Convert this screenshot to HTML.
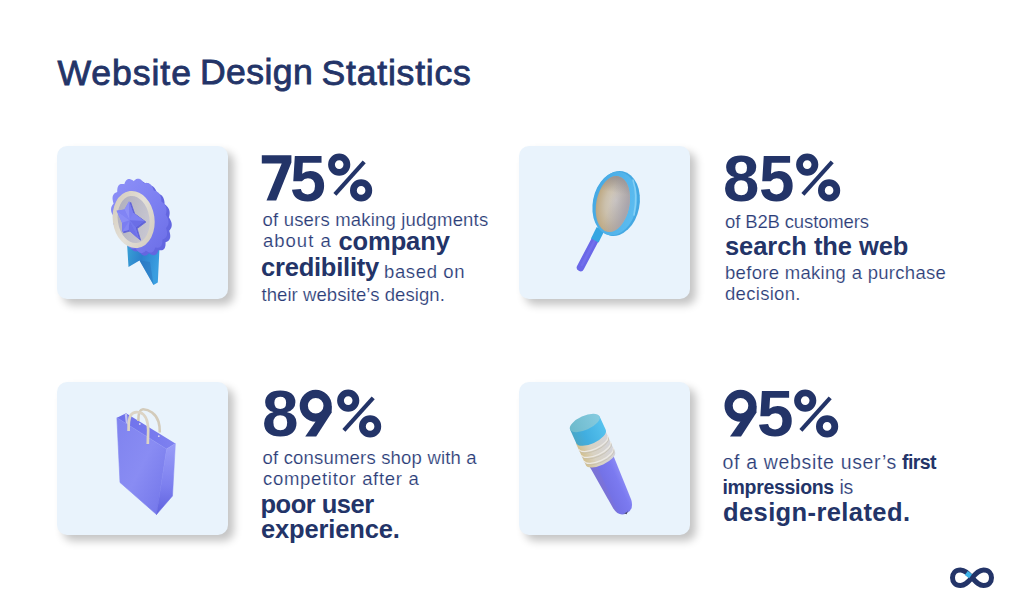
<!DOCTYPE html>
<html><head><meta charset="utf-8"><style>
html,body{margin:0;padding:0}
body{width:1024px;height:615px;background:#fff;position:relative;overflow:hidden;font-family:"Liberation Sans",sans-serif;color:#233468}
.t{position:absolute;line-height:0;white-space:pre}
.r{color:#2c3d78;-webkit-text-stroke:0.16px #fff}
.card{position:absolute;width:171px;height:153px;border-radius:10px;background:#e9f3fc;box-shadow:6px 6px 9px rgba(0,0,0,0.23)}
svg{position:absolute;overflow:visible}
</style></head><body>
<div class="card" style="left:57.0px;top:145.6px"></div>
<div class="card" style="left:518.8px;top:145.7px"></div>
<div class="card" style="left:57.0px;top:381.5px"></div>
<div class="card" style="left:518.8px;top:381.5px"></div>

<svg style="left:0;top:0" width="1024" height="615" viewBox="0 0 1024 615">
<defs>
<linearGradient id="rib" x1="0" y1="0" x2="1" y2="0.3">
 <stop offset="0" stop-color="#3aa2d6"/><stop offset="0.5" stop-color="#2c80cc"/><stop offset="1" stop-color="#3a9ee0"/>
</linearGradient>
<linearGradient id="ros" x1="0" y1="0" x2="1" y2="1">
 <stop offset="0" stop-color="#8f92f8"/><stop offset="0.55" stop-color="#7c7ff1"/><stop offset="1" stop-color="#6b6de6"/>
</linearGradient>
<linearGradient id="ring" x1="0" y1="0" x2="1" y2="1">
 <stop offset="0" stop-color="#d3cbbb"/><stop offset="0.5" stop-color="#e4e0d8"/><stop offset="1" stop-color="#d1cabd"/>
</linearGradient>
<linearGradient id="disc" x1="0" y1="0" x2="1" y2="0.6">
 <stop offset="0" stop-color="#acabba"/><stop offset="1" stop-color="#c9c8d2"/>
</linearGradient>
</defs>
<path d="M127,243 L128.5,267 L139.5,260.5 L153.5,285 L157.8,282.5 L159.5,248 Z" fill="url(#rib)"/>
<path d="M139.5,260.5 L153.5,285 L150,262 Z" fill="#2a74bd" opacity="0.5"/>
<path d="M169.21,209.98 L169.35,210.47 L169.47,210.96 L169.56,211.45 L169.62,211.95 L169.66,212.46 L169.67,212.96 L169.65,213.47 L169.62,213.97 L169.56,214.48 L169.48,214.97 L169.38,215.47 L169.27,215.96 L169.15,216.44 L169.01,216.91 L168.87,217.38 L169.17,217.83 L169.47,218.28 L169.76,218.75 L170.04,219.22 L170.30,219.70 L170.55,220.18 L170.78,220.67 L170.99,221.17 L171.18,221.66 L171.35,222.16 L171.49,222.66 L171.60,223.16 L171.68,223.66 L171.74,224.15 L171.77,224.64 L171.76,225.12 L171.73,225.59 L171.67,226.06 L171.59,226.51 L171.47,226.96 L171.33,227.39 L171.17,227.82 L170.98,228.22 L170.77,228.62 L170.54,229.00 L170.30,229.37 L170.04,229.73 L169.78,230.07 L169.50,230.41 L169.22,230.73 L169.38,231.27 L169.55,231.80 L169.70,232.34 L169.83,232.88 L169.96,233.43 L170.06,233.96 L170.14,234.49 L170.21,235.02 L170.25,235.54 L170.26,236.04 L170.25,236.54 L170.22,237.02 L170.15,237.48 L170.06,237.93 L169.94,238.36 L169.80,238.76 L169.62,239.15 L169.42,239.51 L169.20,239.85 L168.95,240.17 L168.68,240.47 L168.39,240.74 L168.08,240.99 L167.75,241.22 L167.41,241.43 L167.06,241.62 L166.70,241.79 L166.32,241.95 L165.95,242.09 L165.57,242.22 L165.58,242.76 L165.58,243.30 L165.57,243.83 L165.54,244.36 L165.50,244.88 L165.45,245.39 L165.37,245.88 L165.28,246.36 L165.16,246.82 L165.03,247.26 L164.87,247.67 L164.69,248.06 L164.49,248.42 L164.26,248.75 L164.02,249.05 L163.75,249.32 L163.46,249.56 L163.15,249.77 L162.83,249.94 L162.48,250.09 L162.12,250.20 L161.75,250.28 L161.37,250.34 L160.97,250.37 L160.57,250.37 L160.16,250.35 L159.74,250.31 L159.32,250.25 L158.90,250.18 L158.49,250.10 L158.33,250.56 L158.17,251.02 L158.00,251.46 L157.82,251.90 L157.63,252.32 L157.42,252.72 L157.19,253.10 L156.96,253.46 L156.71,253.79 L156.44,254.09 L156.16,254.36 L155.86,254.60 L155.55,254.80 L155.23,254.97 L154.89,255.10 L154.54,255.19 L154.18,255.25 L153.81,255.26 L153.43,255.25 L153.05,255.19 L152.65,255.11 L152.26,254.99 L151.85,254.84 L151.45,254.66 L151.05,254.46 L150.64,254.23 L150.24,253.99 L149.84,253.72 L149.44,253.45 L149.05,253.17 L148.76,253.48 L148.46,253.78 L148.15,254.08 L147.84,254.35 L147.52,254.61 L147.19,254.84 L146.86,255.05 L146.51,255.24 L146.16,255.39 L145.81,255.51 L145.44,255.59 L145.08,255.64 L144.71,255.66 L144.33,255.63 L143.96,255.57 L143.58,255.47 L143.20,255.33 L142.83,255.16 L142.45,254.95 L142.08,254.71 L141.71,254.44 L141.35,254.13 L141.00,253.80 L140.64,253.45 L140.30,253.07 L139.96,252.67 L139.63,252.26 L139.31,251.83 L138.99,251.40 L138.68,250.96 L138.30,251.07 L137.91,251.18 L137.52,251.27 L137.13,251.35 L136.73,251.40 L136.33,251.43 L135.93,251.44 L135.53,251.42 L135.14,251.37 L134.74,251.29 L134.36,251.18 L133.97,251.03 L133.60,250.85 L133.23,250.64 L132.87,250.40 L132.53,250.12 L132.19,249.82 L131.87,249.48 L131.55,249.11 L131.26,248.72 L130.97,248.30 L130.70,247.86 L130.44,247.39 L130.20,246.91 L129.97,246.42 L129.75,245.91 L129.54,245.39 L129.34,244.87 L129.16,244.34 L128.98,243.80 L128.56,243.71 L128.14,243.60 L127.72,243.48 L127.30,243.34 L126.89,243.19 L126.48,243.01 L126.08,242.81 L125.69,242.59 L125.31,242.35 L124.94,242.08 L124.58,241.79 L124.25,241.47 L123.92,241.13 L123.62,240.76 L123.33,240.37 L123.07,239.96 L122.83,239.53 L122.60,239.08 L122.40,238.61 L122.22,238.12 L122.06,237.62 L121.92,237.11 L121.80,236.59 L121.70,236.06 L121.62,235.52 L121.55,234.98 L121.50,234.43 L121.46,233.89 L121.43,233.34 L121.41,232.80 L121.02,232.51 L120.63,232.20 L120.25,231.89 L119.87,231.56 L119.51,231.21 L119.15,230.85 L118.81,230.48 L118.48,230.10 L118.17,229.69 L117.88,229.28 L117.62,228.85 L117.37,228.41 L117.15,227.96 L116.96,227.49 L116.79,227.02 L116.65,226.53 L116.53,226.04 L116.44,225.55 L116.38,225.05 L116.34,224.54 L116.33,224.04 L116.35,223.53 L116.38,223.03 L116.44,222.52 L116.52,222.03 L116.62,221.53 L116.73,221.04 L116.85,220.56 L116.99,220.09 L117.13,219.62 L116.83,219.17 L116.53,218.72 L116.24,218.25 L115.96,217.78 L115.70,217.30 L115.45,216.82 L115.22,216.33 L115.01,215.83 L114.82,215.34 L114.65,214.84 L114.51,214.34 L114.40,213.84 L114.32,213.34 L114.26,212.85 L114.23,212.36 L114.24,211.88 L114.27,211.41 L114.33,210.94 L114.41,210.49 L114.53,210.04 L114.67,209.61 L114.83,209.18 L115.02,208.78 L115.23,208.38 L115.46,208.00 L115.70,207.63 L115.96,207.27 L116.22,206.93 L116.50,206.59 L116.78,206.27 L116.62,205.73 L116.45,205.20 L116.30,204.66 L116.17,204.12 L116.04,203.57 L115.94,203.04 L115.86,202.51 L115.79,201.98 L115.75,201.46 L115.74,200.96 L115.75,200.46 L115.78,199.98 L115.85,199.52 L115.94,199.07 L116.06,198.64 L116.20,198.24 L116.38,197.85 L116.58,197.49 L116.80,197.15 L117.05,196.83 L117.32,196.53 L117.61,196.26 L117.92,196.01 L118.25,195.78 L118.59,195.57 L118.94,195.38 L119.30,195.21 L119.68,195.05 L120.05,194.91 L120.43,194.78 L120.42,194.24 L120.42,193.70 L120.43,193.17 L120.46,192.64 L120.50,192.12 L120.55,191.61 L120.63,191.12 L120.72,190.64 L120.84,190.18 L120.97,189.74 L121.13,189.33 L121.31,188.94 L121.51,188.58 L121.74,188.25 L121.98,187.95 L122.25,187.68 L122.54,187.44 L122.85,187.23 L123.17,187.06 L123.52,186.91 L123.88,186.80 L124.25,186.72 L124.63,186.66 L125.03,186.63 L125.43,186.63 L125.84,186.65 L126.26,186.69 L126.68,186.75 L127.10,186.82 L127.51,186.90 L127.67,186.44 L127.83,185.98 L128.00,185.54 L128.18,185.10 L128.37,184.68 L128.58,184.28 L128.81,183.90 L129.04,183.54 L129.29,183.21 L129.56,182.91 L129.84,182.64 L130.14,182.40 L130.45,182.20 L130.77,182.03 L131.11,181.90 L131.46,181.81 L131.82,181.75 L132.19,181.74 L132.57,181.75 L132.95,181.81 L133.35,181.89 L133.74,182.01 L134.15,182.16 L134.55,182.34 L134.95,182.54 L135.36,182.77 L135.76,183.01 L136.16,183.28 L136.56,183.55 L136.95,183.83 L137.24,183.52 L137.54,183.22 L137.85,182.92 L138.16,182.65 L138.48,182.39 L138.81,182.16 L139.14,181.95 L139.49,181.76 L139.84,181.61 L140.19,181.49 L140.56,181.41 L140.92,181.36 L141.29,181.34 L141.67,181.37 L142.04,181.43 L142.42,181.53 L142.80,181.67 L143.17,181.84 L143.55,182.05 L143.92,182.29 L144.29,182.56 L144.65,182.87 L145.00,183.20 L145.36,183.55 L145.70,183.93 L146.04,184.33 L146.37,184.74 L146.69,185.17 L147.01,185.60 L147.32,186.04 L147.70,185.93 L148.09,185.82 L148.48,185.73 L148.87,185.65 L149.27,185.60 L149.67,185.57 L150.07,185.56 L150.47,185.58 L150.86,185.63 L151.26,185.71 L151.64,185.82 L152.03,185.97 L152.40,186.15 L152.77,186.36 L153.13,186.60 L153.47,186.88 L153.81,187.18 L154.13,187.52 L154.45,187.89 L154.74,188.28 L155.03,188.70 L155.30,189.14 L155.56,189.61 L155.80,190.09 L156.03,190.58 L156.25,191.09 L156.46,191.61 L156.66,192.13 L156.84,192.66 L157.02,193.20 L157.44,193.29 L157.86,193.40 L158.28,193.52 L158.70,193.66 L159.11,193.81 L159.52,193.99 L159.92,194.19 L160.31,194.41 L160.69,194.65 L161.06,194.92 L161.42,195.21 L161.75,195.53 L162.08,195.87 L162.38,196.24 L162.67,196.63 L162.93,197.04 L163.17,197.47 L163.40,197.92 L163.60,198.39 L163.78,198.88 L163.94,199.38 L164.08,199.89 L164.20,200.41 L164.30,200.94 L164.38,201.48 L164.45,202.02 L164.50,202.57 L164.54,203.11 L164.57,203.66 L164.59,204.20 L164.98,204.49 L165.37,204.80 L165.75,205.11 L166.13,205.44 L166.49,205.79 L166.85,206.15 L167.19,206.52 L167.52,206.90 L167.83,207.31 L168.12,207.72 L168.38,208.15 L168.63,208.59 L168.85,209.04 L169.04,209.51 Z" fill="#6366e0"/>
<path d="M166.01,207.28 L166.15,207.77 L166.27,208.26 L166.36,208.75 L166.42,209.25 L166.46,209.76 L166.47,210.26 L166.45,210.77 L166.42,211.27 L166.36,211.78 L166.28,212.27 L166.18,212.77 L166.07,213.26 L165.95,213.74 L165.81,214.21 L165.67,214.68 L165.97,215.13 L166.27,215.58 L166.56,216.05 L166.84,216.52 L167.10,217.00 L167.35,217.48 L167.58,217.97 L167.79,218.47 L167.98,218.96 L168.15,219.46 L168.29,219.96 L168.40,220.46 L168.48,220.96 L168.54,221.45 L168.57,221.94 L168.56,222.42 L168.53,222.89 L168.47,223.36 L168.39,223.81 L168.27,224.26 L168.13,224.69 L167.97,225.12 L167.78,225.52 L167.57,225.92 L167.34,226.30 L167.10,226.67 L166.84,227.03 L166.58,227.37 L166.30,227.71 L166.02,228.03 L166.18,228.57 L166.35,229.10 L166.50,229.64 L166.63,230.18 L166.76,230.73 L166.86,231.26 L166.94,231.79 L167.01,232.32 L167.05,232.84 L167.06,233.34 L167.05,233.84 L167.02,234.32 L166.95,234.78 L166.86,235.23 L166.74,235.66 L166.60,236.06 L166.42,236.45 L166.22,236.81 L166.00,237.15 L165.75,237.47 L165.48,237.77 L165.19,238.04 L164.88,238.29 L164.55,238.52 L164.21,238.73 L163.86,238.92 L163.50,239.09 L163.12,239.25 L162.75,239.39 L162.37,239.52 L162.38,240.06 L162.38,240.60 L162.37,241.13 L162.34,241.66 L162.30,242.18 L162.25,242.69 L162.17,243.18 L162.08,243.66 L161.96,244.12 L161.83,244.56 L161.67,244.97 L161.49,245.36 L161.29,245.72 L161.06,246.05 L160.82,246.35 L160.55,246.62 L160.26,246.86 L159.95,247.07 L159.63,247.24 L159.28,247.39 L158.92,247.50 L158.55,247.58 L158.17,247.64 L157.77,247.67 L157.37,247.67 L156.96,247.65 L156.54,247.61 L156.12,247.55 L155.70,247.48 L155.29,247.40 L155.13,247.86 L154.97,248.32 L154.80,248.76 L154.62,249.20 L154.43,249.62 L154.22,250.02 L153.99,250.40 L153.76,250.76 L153.51,251.09 L153.24,251.39 L152.96,251.66 L152.66,251.90 L152.35,252.10 L152.03,252.27 L151.69,252.40 L151.34,252.49 L150.98,252.55 L150.61,252.56 L150.23,252.55 L149.85,252.49 L149.45,252.41 L149.06,252.29 L148.65,252.14 L148.25,251.96 L147.85,251.76 L147.44,251.53 L147.04,251.29 L146.64,251.02 L146.24,250.75 L145.85,250.47 L145.56,250.78 L145.26,251.08 L144.95,251.38 L144.64,251.65 L144.32,251.91 L143.99,252.14 L143.66,252.35 L143.31,252.54 L142.96,252.69 L142.61,252.81 L142.24,252.89 L141.88,252.94 L141.51,252.96 L141.13,252.93 L140.76,252.87 L140.38,252.77 L140.00,252.63 L139.63,252.46 L139.25,252.25 L138.88,252.01 L138.51,251.74 L138.15,251.43 L137.80,251.10 L137.44,250.75 L137.10,250.37 L136.76,249.97 L136.43,249.56 L136.11,249.13 L135.79,248.70 L135.48,248.26 L135.10,248.37 L134.71,248.48 L134.32,248.57 L133.93,248.65 L133.53,248.70 L133.13,248.73 L132.73,248.74 L132.33,248.72 L131.94,248.67 L131.54,248.59 L131.16,248.48 L130.77,248.33 L130.40,248.15 L130.03,247.94 L129.67,247.70 L129.33,247.42 L128.99,247.12 L128.67,246.78 L128.35,246.41 L128.06,246.02 L127.77,245.60 L127.50,245.16 L127.24,244.69 L127.00,244.21 L126.77,243.72 L126.55,243.21 L126.34,242.69 L126.14,242.17 L125.96,241.64 L125.78,241.10 L125.36,241.01 L124.94,240.90 L124.52,240.78 L124.10,240.64 L123.69,240.49 L123.28,240.31 L122.88,240.11 L122.49,239.89 L122.11,239.65 L121.74,239.38 L121.38,239.09 L121.05,238.77 L120.72,238.43 L120.42,238.06 L120.13,237.67 L119.87,237.26 L119.63,236.83 L119.40,236.38 L119.20,235.91 L119.02,235.42 L118.86,234.92 L118.72,234.41 L118.60,233.89 L118.50,233.36 L118.42,232.82 L118.35,232.28 L118.30,231.73 L118.26,231.19 L118.23,230.64 L118.21,230.10 L117.82,229.81 L117.43,229.50 L117.05,229.19 L116.67,228.86 L116.31,228.51 L115.95,228.15 L115.61,227.78 L115.28,227.40 L114.97,226.99 L114.68,226.58 L114.42,226.15 L114.17,225.71 L113.95,225.26 L113.76,224.79 L113.59,224.32 L113.45,223.83 L113.33,223.34 L113.24,222.85 L113.18,222.35 L113.14,221.84 L113.13,221.34 L113.15,220.83 L113.18,220.33 L113.24,219.82 L113.32,219.33 L113.42,218.83 L113.53,218.34 L113.65,217.86 L113.79,217.39 L113.93,216.92 L113.63,216.47 L113.33,216.02 L113.04,215.55 L112.76,215.08 L112.50,214.60 L112.25,214.12 L112.02,213.63 L111.81,213.13 L111.62,212.64 L111.45,212.14 L111.31,211.64 L111.20,211.14 L111.12,210.64 L111.06,210.15 L111.03,209.66 L111.04,209.18 L111.07,208.71 L111.13,208.24 L111.21,207.79 L111.33,207.34 L111.47,206.91 L111.63,206.48 L111.82,206.08 L112.03,205.68 L112.26,205.30 L112.50,204.93 L112.76,204.57 L113.02,204.23 L113.30,203.89 L113.58,203.57 L113.42,203.03 L113.25,202.50 L113.10,201.96 L112.97,201.42 L112.84,200.87 L112.74,200.34 L112.66,199.81 L112.59,199.28 L112.55,198.76 L112.54,198.26 L112.55,197.76 L112.58,197.28 L112.65,196.82 L112.74,196.37 L112.86,195.94 L113.00,195.54 L113.18,195.15 L113.38,194.79 L113.60,194.45 L113.85,194.13 L114.12,193.83 L114.41,193.56 L114.72,193.31 L115.05,193.08 L115.39,192.87 L115.74,192.68 L116.10,192.51 L116.48,192.35 L116.85,192.21 L117.23,192.08 L117.22,191.54 L117.22,191.00 L117.23,190.47 L117.26,189.94 L117.30,189.42 L117.35,188.91 L117.43,188.42 L117.52,187.94 L117.64,187.48 L117.77,187.04 L117.93,186.63 L118.11,186.24 L118.31,185.88 L118.54,185.55 L118.78,185.25 L119.05,184.98 L119.34,184.74 L119.65,184.53 L119.97,184.36 L120.32,184.21 L120.68,184.10 L121.05,184.02 L121.43,183.96 L121.83,183.93 L122.23,183.93 L122.64,183.95 L123.06,183.99 L123.48,184.05 L123.90,184.12 L124.31,184.20 L124.47,183.74 L124.63,183.28 L124.80,182.84 L124.98,182.40 L125.17,181.98 L125.38,181.58 L125.61,181.20 L125.84,180.84 L126.09,180.51 L126.36,180.21 L126.64,179.94 L126.94,179.70 L127.25,179.50 L127.57,179.33 L127.91,179.20 L128.26,179.11 L128.62,179.05 L128.99,179.04 L129.37,179.05 L129.75,179.11 L130.15,179.19 L130.54,179.31 L130.95,179.46 L131.35,179.64 L131.75,179.84 L132.16,180.07 L132.56,180.31 L132.96,180.58 L133.36,180.85 L133.75,181.13 L134.04,180.82 L134.34,180.52 L134.65,180.22 L134.96,179.95 L135.28,179.69 L135.61,179.46 L135.94,179.25 L136.29,179.06 L136.64,178.91 L136.99,178.79 L137.36,178.71 L137.72,178.66 L138.09,178.64 L138.47,178.67 L138.84,178.73 L139.22,178.83 L139.60,178.97 L139.97,179.14 L140.35,179.35 L140.72,179.59 L141.09,179.86 L141.45,180.17 L141.80,180.50 L142.16,180.85 L142.50,181.23 L142.84,181.63 L143.17,182.04 L143.49,182.47 L143.81,182.90 L144.12,183.34 L144.50,183.23 L144.89,183.12 L145.28,183.03 L145.67,182.95 L146.07,182.90 L146.47,182.87 L146.87,182.86 L147.27,182.88 L147.66,182.93 L148.06,183.01 L148.44,183.12 L148.83,183.27 L149.20,183.45 L149.57,183.66 L149.93,183.90 L150.27,184.18 L150.61,184.48 L150.93,184.82 L151.25,185.19 L151.54,185.58 L151.83,186.00 L152.10,186.44 L152.36,186.91 L152.60,187.39 L152.83,187.88 L153.05,188.39 L153.26,188.91 L153.46,189.43 L153.64,189.96 L153.82,190.50 L154.24,190.59 L154.66,190.70 L155.08,190.82 L155.50,190.96 L155.91,191.11 L156.32,191.29 L156.72,191.49 L157.11,191.71 L157.49,191.95 L157.86,192.22 L158.22,192.51 L158.55,192.83 L158.88,193.17 L159.18,193.54 L159.47,193.93 L159.73,194.34 L159.97,194.77 L160.20,195.22 L160.40,195.69 L160.58,196.18 L160.74,196.68 L160.88,197.19 L161.00,197.71 L161.10,198.24 L161.18,198.78 L161.25,199.32 L161.30,199.87 L161.34,200.41 L161.37,200.96 L161.39,201.50 L161.78,201.79 L162.17,202.10 L162.55,202.41 L162.93,202.74 L163.29,203.09 L163.65,203.45 L163.99,203.82 L164.32,204.20 L164.63,204.61 L164.92,205.02 L165.18,205.45 L165.43,205.89 L165.65,206.34 L165.84,206.81 Z" fill="url(#ros)"/>
<ellipse cx="133.65" cy="219.5" rx="18.35" ry="26.2" transform="rotate(-8 133.65 219.5)" fill="url(#disc)" stroke="url(#ring)" stroke-width="5"/>
<polygon points="130.7,202.3 134.7,213.8 145.9,222.0 137.1,228.6 140.6,240.2 130.1,231.0 123.6,232.8 123.6,223.8 118.2,211.8 126.0,210.6" fill="#5f62d8" stroke="#5f62d8" stroke-width="0.8" stroke-linejoin="round"/><polygon points="129.1,201.3 133.1,212.8 144.3,221.0 135.5,227.6 139.0,239.2 128.5,230.0 122.0,231.8 122.0,222.8 116.6,210.8 124.4,209.6" fill="#7d80f2"/><polygon points="129.6,220.2 124.4,209.6 129.1,201.3" fill="#8e91f7"/><polygon points="129.6,220.2 129.1,201.3 133.1,212.8" fill="#7c7ff1"/><polygon points="129.6,220.2 133.1,212.8 144.3,221.0" fill="#7f82f3"/><polygon points="129.6,220.2 144.3,221.0 135.5,227.6" fill="#6b6ee6"/><polygon points="129.6,220.2 135.5,227.6 139.0,239.2" fill="#7478ec"/><polygon points="129.6,220.2 139.0,239.2 128.5,230.0" fill="#6e71e8"/><polygon points="129.6,220.2 128.5,230.0 122.0,231.8" fill="#8487f4"/><polygon points="129.6,220.2 122.0,231.8 122.0,222.8" fill="#7b7ef1"/><polygon points="129.6,220.2 122.0,222.8 116.6,210.8" fill="#8a8df6"/><polygon points="129.6,220.2 116.6,210.8 124.4,209.6" fill="#8184f4"/>
</svg>
<svg style="left:0;top:0" width="1024" height="615" viewBox="0 0 1024 615">
<defs>
<radialGradient id="lens" cx="0.55" cy="0.5" r="0.6" fx="0.58" fy="0.42">
 <stop offset="0" stop-color="#d4cec8"/><stop offset="0.5" stop-color="#cbc0ac"/><stop offset="0.85" stop-color="#c0ac88"/><stop offset="1" stop-color="#a89c8c"/>
</radialGradient>
<linearGradient id="lensR" x1="0" y1="0" x2="1" y2="0.15">
 <stop offset="0.45" stop-color="#a4a2b0" stop-opacity="0"/><stop offset="1" stop-color="#a4a2b0" stop-opacity="0.85"/>
</linearGradient>
<linearGradient id="lensSh" x1="0" y1="0" x2="0" y2="1">
 <stop offset="0" stop-color="#8e8b96" stop-opacity="0.75"/><stop offset="0.3" stop-color="#8e8b96" stop-opacity="0"/>
</linearGradient>
<linearGradient id="rim" x1="0" y1="0" x2="1" y2="0">
 <stop offset="0" stop-color="#45a9e4"/><stop offset="1" stop-color="#5cbcf0"/>
</linearGradient>
</defs>
<line x1="580.5" y1="267.5" x2="596" y2="238" stroke="#6a67e8" stroke-width="7.5" stroke-linecap="round"/>
<line x1="582" y1="265" x2="595" y2="240" stroke="#7875ef" stroke-width="2.5" stroke-linecap="round" opacity="0.6"/>
<line x1="594.8" y1="240.5" x2="600.5" y2="229" stroke="#35a6e2" stroke-width="8.5"/>
<ellipse cx="616.5" cy="203.5" rx="23" ry="32.8" transform="rotate(11 616.5 203.5)" fill="#44a8e2"/>
<ellipse cx="614.8" cy="203.5" rx="22" ry="32" transform="rotate(11 614.8 203.5)" fill="url(#rim)"/>
<path d="M633,180 Q638,195 634,215" fill="none" stroke="#8fd4f6" stroke-width="1.6" stroke-linecap="round" opacity="0.8"/>
<ellipse cx="612.8" cy="204" rx="16.6" ry="28.3" transform="rotate(11 612.8 204)" fill="url(#lens)"/>
<ellipse cx="612.8" cy="204" rx="16.6" ry="28.3" transform="rotate(11 612.8 204)" fill="url(#lensR)"/>
<ellipse cx="612.8" cy="204" rx="16.6" ry="28.3" transform="rotate(11 612.8 204)" fill="url(#lensSh)"/>
</svg>
<svg style="left:0;top:0" width="1024" height="615" viewBox="0 0 1024 615">
<defs>
<linearGradient id="bagf" x1="0" y1="0" x2="1" y2="1">
 <stop offset="0" stop-color="#7f83ef"/><stop offset="0.5" stop-color="#898cf3"/><stop offset="1" stop-color="#7174e9"/>
</linearGradient>
<linearGradient id="bags" x1="0" y1="0" x2="0" y2="1">
 <stop offset="0" stop-color="#9a9df8"/><stop offset="0.6" stop-color="#7c7fef"/><stop offset="1" stop-color="#5f61de"/>
</linearGradient>
<linearGradient id="bagb" x1="0" y1="0" x2="1" y2="0">
 <stop offset="0" stop-color="#6d70ea"/><stop offset="1" stop-color="#7e81f0"/>
</linearGradient>
</defs>
<polygon points="116.9,417.7 126.1,413.3 175.4,443.5 166.6,448.9" fill="url(#bagb)"/>
<polygon points="124.7,414.3 127.0,413.6 128.2,426.0 126.4,427.4" fill="#bfc1f2"/>
<circle cx="139.8" cy="424" r="0.9" fill="#d8d6ee"/>
<circle cx="158.8" cy="436.2" r="0.9" fill="#d8d6ee"/>
<path d="M138.3,421 C138.2,414 139,409.5 143,409.3 C149,409.2 156,414 158.5,421.6 C159.6,425 159.8,429 159.8,432.5" fill="none" stroke="#d3cbbb" stroke-width="2.6"/>
<polygon points="116.9,417.7 166.6,448.9 156.5,514.5 120,482.5" fill="url(#bagf)" stroke="url(#bagf)" stroke-width="0.6" stroke-linejoin="round"/>
<polygon points="166.6,448.9 175.4,443.5 172.5,496 156.5,514.5" fill="url(#bags)" stroke="url(#bags)" stroke-width="0.5" stroke-linejoin="round"/>
<path d="M128.6,431 C128.5,424 128.6,419 130.5,415.5 C132.5,412.3 136.5,411.6 140,412.5 C145,414 148,420 148.2,430 L147.8,444" fill="none" stroke="#dcd4c5" stroke-width="2.7"/>
</svg>
<svg style="left:0;top:0" width="1024" height="615" viewBox="0 0 1024 615">
<defs>
<linearGradient id="pb" x1="0" y1="0" x2="1" y2="0">
 <stop offset="0" stop-color="#7b73d4"/><stop offset="0.22" stop-color="#7a72da"/><stop offset="0.3" stop-color="#7472e6"/><stop offset="0.75" stop-color="#7b7af0"/><stop offset="1" stop-color="#8b8af5"/>
</linearGradient>
<linearGradient id="pf" x1="0" y1="0" x2="1" y2="0">
 <stop offset="0" stop-color="#d3c08e"/><stop offset="0.35" stop-color="#d9d2c2"/><stop offset="1" stop-color="#d4d4da"/>
</linearGradient>
<linearGradient id="pe" x1="0" y1="0" x2="1" y2="0">
 <stop offset="0" stop-color="#4aa6c6"/><stop offset="0.35" stop-color="#41aee0"/><stop offset="1" stop-color="#56c2ee"/>
</linearGradient>
<linearGradient id="pt" x1="0" y1="0" x2="1" y2="0">
 <stop offset="0" stop-color="#6cb9cb"/><stop offset="1" stop-color="#86cbe0"/>
</linearGradient>
</defs>
<g transform="translate(585.4 422.6) rotate(-24.5)">
 <path d="M-14.6,39 L11.9,39 L9.7,89.5 Q8,99.6 -0.5,99.8 Q-9,99.6 -10.3,89.5 Z" fill="url(#pb)"/>
 <path d="M-3.5,97.5 Q-0.5,100.5 2.5,97.5 L-0.5,100.6 Z" fill="#4a4c66"/>
 <path d="M-17.2,15 L14.8,15 L14.8,39 A16,6.5 0 0 1 -17.2,39 Z" fill="url(#pf)"/>
 <path d="M-17.2,21.5 A16,6.5 0 0 0 14.8,21.5 M-17.2,28 A16,6.5 0 0 0 14.8,28 M-17.2,34.5 A16,6.5 0 0 0 14.8,34.5" fill="none" stroke="#ece9e3" stroke-width="1.3"/>
 <path d="M-17.2,23.2 A16,6.5 0 0 0 14.8,23.2 M-17.2,29.7 A16,6.5 0 0 0 14.8,29.7 M-17.2,36.2 A16,6.5 0 0 0 14.8,36.2" fill="none" stroke="#c2bba9" stroke-width="0.8" opacity="0.7"/>
 <path d="M-16.9,0 L15.5,0 L15.5,15 A16.2,7 0 0 1 -16.9,15 Z" fill="url(#pe)"/>
 <ellipse cx="-0.7" cy="0" rx="16.2" ry="7" fill="url(#pt)"/>
</g>
</svg>
<svg style="left:0;top:0" width="1024" height="615" viewBox="0 0 1024 615">
<path d="M972,577.75 C968,573.5 965,570 960.5,570 C955,570 952.5,574 952.5,577.75 C952.5,581.5 955,585.5 960.5,585.5 C965,585.5 968,582 972,577.75 C976,573.5 979,570 983.5,570 C989,570 991.5,574 991.5,577.75 C991.5,581.5 989,585.5 983.5,585.5 C979,585.5 976,582 972,577.75 Z" fill="none" stroke="#233468" stroke-width="5"/>
<path d="M966.3,573.1 L970.6,576.3" stroke="#3db4ea" stroke-width="5"/>
</svg>
<svg class="pct" style="left:325.70px;top:152.10px" width="50" height="52" viewBox="0 0 50 52"><circle cx="13.20" cy="12.60" r="7.7" fill="none" stroke="#233468" stroke-width="6.8"/><circle cx="35.10" cy="38.40" r="7.7" fill="none" stroke="#233468" stroke-width="6.8"/><line x1="8.90" y1="42.40" x2="38.20" y2="9.90" stroke="#233468" stroke-width="4.1"/></svg>
<svg class="pct" style="left:793.90px;top:152.10px" width="50" height="52" viewBox="0 0 50 52"><circle cx="13.20" cy="12.60" r="7.7" fill="none" stroke="#233468" stroke-width="6.8"/><circle cx="35.10" cy="38.40" r="7.7" fill="none" stroke="#233468" stroke-width="6.8"/><line x1="8.90" y1="42.40" x2="38.20" y2="9.90" stroke="#233468" stroke-width="4.1"/></svg>
<svg class="pct" style="left:334.50px;top:388.10px" width="50" height="52" viewBox="0 0 50 52"><circle cx="13.20" cy="12.60" r="7.7" fill="none" stroke="#233468" stroke-width="6.8"/><circle cx="35.10" cy="38.40" r="7.7" fill="none" stroke="#233468" stroke-width="6.8"/><line x1="8.90" y1="42.40" x2="38.20" y2="9.90" stroke="#233468" stroke-width="4.1"/></svg>
<svg class="pct" style="left:792.10px;top:388.10px" width="50" height="52" viewBox="0 0 50 52"><circle cx="13.20" cy="12.60" r="7.7" fill="none" stroke="#233468" stroke-width="6.8"/><circle cx="35.10" cy="38.40" r="7.7" fill="none" stroke="#233468" stroke-width="6.8"/><line x1="8.90" y1="42.40" x2="38.20" y2="9.90" stroke="#233468" stroke-width="4.1"/></svg>
<svg style="left:0;top:0" width="1024" height="615" viewBox="0 0 1024 615"><polygon points="261.8,155.2 291.4,155.2 291.4,162.6 276.2,200.5 266.5,200.5 281.7,163.4 261.8,163.4" fill="#233468"/><circle cx="315.70" cy="405.7" r="11.9" fill="none" stroke="#233468" stroke-width="8.2"/><polygon points="305.20,436.5 316.20,436.5 331.70,412.5 331.70,405.7 320.10,415" fill="#233468"/><circle cx="740.50" cy="405.7" r="11.9" fill="none" stroke="#233468" stroke-width="8.2"/><polygon points="730.00,436.5 741.00,436.5 756.50,412.5 756.50,405.7 744.90,415" fill="#233468"/></svg>
<div class="t" id="s0" style="left:57.50px;top:73.26px;font-size:35.60px;font-weight:normal;-webkit-text-stroke:0.85px #233468;letter-spacing:0.933px;">Website</div>
<div class="t" id="s1" style="left:200.00px;top:72.26px;font-size:35.60px;font-weight:normal;-webkit-text-stroke:0.85px #233468;letter-spacing:0.400px;">Design</div>
<div class="t" id="s2" style="left:321.50px;top:73.26px;font-size:35.60px;font-weight:normal;-webkit-text-stroke:0.85px #233468;letter-spacing:0.778px;">Statistics</div>
<div class="t r" id="s3" style="left:262.50px;top:220.39px;font-size:18.50px;font-weight:normal;letter-spacing:0.192px;">of users making judgments</div>
<div class="t r" id="s4" style="left:263.00px;top:241.39px;font-size:18.50px;font-weight:normal;letter-spacing:1.000px;">about a</div>
<div class="t" id="s5" style="left:338.50px;top:241.16px;font-size:25.50px;font-weight:bold;letter-spacing:-0.100px;">company</div>
<div class="t" id="s6" style="left:261.00px;top:266.56px;font-size:25.50px;font-weight:bold;letter-spacing:-0.220px;">credibility</div>
<div class="t r" id="s7" style="left:384.00px;top:271.59px;font-size:18.50px;font-weight:normal;letter-spacing:0.629px;">based on</div>
<div class="t r" id="s8" style="left:261.50px;top:295.19px;font-size:18.50px;font-weight:normal;letter-spacing:0.073px;">their website’s design.</div>
<div class="t r" id="s9" style="left:725.00px;top:222.39px;font-size:18.50px;font-weight:normal;letter-spacing:-0.133px;">of B2B customers</div>
<div class="t" id="s10" style="left:725.00px;top:245.56px;font-size:25.50px;font-weight:bold;letter-spacing:-0.062px;">search the web</div>
<div class="t r" id="s11" style="left:725.00px;top:272.99px;font-size:18.50px;font-weight:normal;letter-spacing:0.304px;">before making a purchase</div>
<div class="t r" id="s12" style="left:725.00px;top:294.39px;font-size:18.50px;font-weight:normal;letter-spacing:0.300px;">decision.</div>
<div class="t r" id="s13" style="left:262.50px;top:458.19px;font-size:18.50px;font-weight:normal;letter-spacing:0.191px;">of consumers shop with a</div>
<div class="t r" id="s14" style="left:263.00px;top:478.79px;font-size:18.50px;font-weight:normal;letter-spacing:0.694px;">competitor after a</div>
<div class="t" id="s15" style="left:260.50px;top:504.36px;font-size:25.50px;font-weight:bold;letter-spacing:-0.500px;">poor user</div>
<div class="t" id="s16" style="left:261.00px;top:528.76px;font-size:25.50px;font-weight:bold;letter-spacing:-0.140px;">experience.</div>
<div class="t r" id="s17" style="left:722.50px;top:461.84px;font-size:19.50px;font-weight:normal;letter-spacing:0.667px;">of a website user’s</div>
<div class="t" id="s18" style="left:902.00px;top:462.24px;font-size:19.50px;font-weight:bold;letter-spacing:-0.600px;">first</div>
<div class="t" id="s19" style="left:722.50px;top:487.04px;font-size:19.50px;font-weight:bold;letter-spacing:-0.320px;">impressions</div>
<div class="t r" id="s20" style="left:839.50px;top:487.04px;font-size:19.50px;font-weight:normal;letter-spacing:-0.400px;">is</div>
<div class="t" id="s21" style="left:723.00px;top:512.16px;font-size:25.50px;font-weight:bold;letter-spacing:0.400px;">design-related.</div>
<div class="t" id="s22" style="left:290.00px;top:178.65px;font-size:64.50px;font-weight:bold;transform:scaleX(1.0005);transform-origin:0 0;">5</div>
<div class="t" id="s23" style="left:722.50px;top:178.65px;font-size:64.50px;font-weight:bold;transform:scaleX(1.0128);transform-origin:0 0;">8</div>
<div class="t" id="s24" style="left:758.50px;top:178.65px;font-size:64.50px;font-weight:bold;transform:scaleX(0.9876);transform-origin:0 0;">5</div>
<div class="t" id="s25" style="left:261.50px;top:414.45px;font-size:64.50px;font-weight:bold;transform:scaleX(1.0188);transform-origin:0 0;">8</div>
<div class="t" id="s26" style="left:757.00px;top:414.45px;font-size:64.50px;font-weight:bold;transform:scaleX(1.0191);transform-origin:0 0;">5</div>
</body></html>
